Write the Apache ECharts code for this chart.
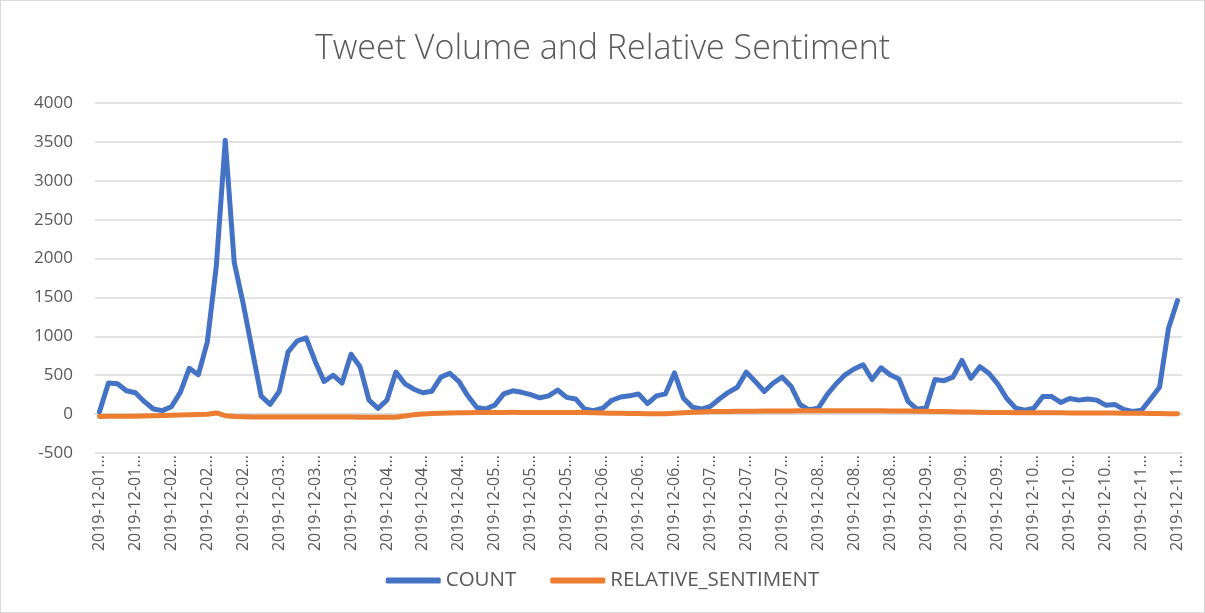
<!DOCTYPE html>
<html>
<head>
<meta charset="utf-8">
<script src="https://cdn.jsdelivr.net/npm/echarts@6/dist/echarts.min.js"></script>
<style>
html,body{margin:0;padding:0;background:#fff;}
#c{position:absolute;left:0;top:0;width:1205px;height:613px;}
#frame{position:absolute;left:0;top:0;width:1203px;height:611px;border:1px solid #d9d9d9;pointer-events:none;}
</style>
</head>
<body>
<div id="c"></div>
<div id="frame"></div>
<script>
const categories = [
"2019-12-01 08:00","2019-12-01 10:00","2019-12-01 12:00","2019-12-01 14:00","2019-12-01 16:00","2019-12-01 18:00","2019-12-01 20:00","2019-12-01 22:00",
"2019-12-02 00:00","2019-12-02 02:00","2019-12-02 04:00","2019-12-02 06:00","2019-12-02 08:00","2019-12-02 10:00","2019-12-02 12:00","2019-12-02 14:00","2019-12-02 16:00","2019-12-02 18:00","2019-12-02 20:00","2019-12-02 22:00",
"2019-12-03 00:00","2019-12-03 02:00","2019-12-03 04:00","2019-12-03 06:00","2019-12-03 08:00","2019-12-03 10:00","2019-12-03 12:00","2019-12-03 14:00","2019-12-03 16:00","2019-12-03 18:00","2019-12-03 20:00","2019-12-03 22:00",
"2019-12-04 00:00","2019-12-04 02:00","2019-12-04 04:00","2019-12-04 06:00","2019-12-04 08:00","2019-12-04 10:00","2019-12-04 12:00","2019-12-04 14:00","2019-12-04 16:00","2019-12-04 18:00","2019-12-04 20:00","2019-12-04 22:00",
"2019-12-05 00:00","2019-12-05 02:00","2019-12-05 04:00","2019-12-05 06:00","2019-12-05 08:00","2019-12-05 10:00","2019-12-05 12:00","2019-12-05 14:00","2019-12-05 16:00","2019-12-05 18:00","2019-12-05 20:00","2019-12-05 22:00",
"2019-12-06 00:00","2019-12-06 02:00","2019-12-06 04:00","2019-12-06 06:00","2019-12-06 08:00","2019-12-06 10:00","2019-12-06 12:00","2019-12-06 14:00","2019-12-06 16:00","2019-12-06 18:00","2019-12-06 20:00","2019-12-06 22:00",
"2019-12-07 00:00","2019-12-07 02:00","2019-12-07 04:00","2019-12-07 06:00","2019-12-07 08:00","2019-12-07 10:00","2019-12-07 12:00","2019-12-07 14:00","2019-12-07 16:00","2019-12-07 18:00","2019-12-07 20:00","2019-12-07 22:00",
"2019-12-08 00:00","2019-12-08 02:00","2019-12-08 04:00","2019-12-08 06:00","2019-12-08 08:00","2019-12-08 10:00","2019-12-08 12:00","2019-12-08 14:00","2019-12-08 16:00","2019-12-08 18:00","2019-12-08 20:00","2019-12-08 22:00",
"2019-12-09 00:00","2019-12-09 02:00","2019-12-09 04:00","2019-12-09 06:00","2019-12-09 08:00","2019-12-09 10:00","2019-12-09 12:00","2019-12-09 14:00","2019-12-09 16:00","2019-12-09 18:00","2019-12-09 20:00","2019-12-09 22:00",
"2019-12-10 00:00","2019-12-10 02:00","2019-12-10 04:00","2019-12-10 06:00","2019-12-10 08:00","2019-12-10 10:00","2019-12-10 12:00","2019-12-10 14:00","2019-12-10 16:00","2019-12-10 18:00","2019-12-10 20:00","2019-12-10 22:00",
"2019-12-11 00:00","2019-12-11 02:00","2019-12-11 04:00","2019-12-11 06:00","2019-12-11 08:00"
];

const countValues = [
30,400,390,300,275,160,65,45,95,280,590,505,925,1900,3520,1950,1420,820,230,125,
290,800,940,980,680,420,500,400,770,610,180,75,180,540,390,320,275,295,475,525,
420,235,85,65,115,260,300,280,250,210,235,310,215,195,65,45,75,175,220,235,
260,135,235,260,530,205,90,65,100,195,280,345,540,420,290,400,475,355,120,55,
75,250,390,505,580,635,445,595,505,450,165,65,75,445,430,475,690,460,610,525,
385,200,75,50,75,225,225,150,200,180,195,180,115,125,60,35,50,195,345,1105,
1460
];

const sentimentValues = [
-30,-29,-28,-27,-26,-25,-22,-18,-14,-10,-7,-4,-1,15,-20,
-32,-35,-36,-37,-37,-38,-38,-38,-37,-37,-36,-36,-37,-38,-39,-40,-40,-41,-40,
-25,-8,2,8,12,15,17,19,20,
21,22,22,23,22,22,21,21,22,22,21,20,
18,15,12,10,8,7,6,5,6,
12,18,24,28,32,34,35,36,
37,38,39,40,41,41,42,42,42,43,43,43,43,43,42,42,41,40,39,38,36,34,32,30,
28,26,24,22,21,20,19,18,17,
17,16,16,15,15,14,14,13,13,12,11,10,8,7,5,4
];

const yTicks = { min: -500, max: 4000, step: 500 };
const seriesNames = ["COUNT", "RELATIVE_SENTIMENT"];
const titleText = "Tweet Volume and Relative Sentiment";

const FONT = "'Open Sans', 'Liberation Sans', sans-serif";
const TXT = "#595959";
const GRID = "#d9d9d9";

const chart = echarts.init(document.getElementById('c'), null, { renderer: 'canvas' });
chart.setOption({
  animation: false,
  backgroundColor: '#ffffff',
  title: {
    text: titleText,
    left: 'center',
    top: 27,
    textStyle: { fontFamily: FONT, fontSize: 34, fontWeight: 300, color: TXT }
  },
  legend: {
    data: seriesNames,
    left: 'center',
    top: 565,
    icon: 'roundRect',
    itemWidth: 55,
    itemHeight: 6,
    itemGap: 34,
    textStyle: { fontFamily: FONT, fontSize: 20.5, color: TXT }
  },
  grid: { left: 95, right: 23, top: 103, bottom: 160, containLabel: false },
  xAxis: {
    type: 'category',
    data: categories,
    boundaryGap: true,
    axisLine: { show: true, onZero: true, lineStyle: { color: GRID, width: 1.5 } },
    axisTick: { show: false },
    splitLine: { show: false },
    axisLabel: {
      interval: 3,
      rotate: 90,
      margin: 2,
      fontFamily: FONT,
      fontSize: 16,
      color: TXT,
      formatter: function (v) { return v.slice(0, 10) + '...'; }
    }
  },
  yAxis: {
    type: 'value',
    min: yTicks.min,
    max: yTicks.max,
    interval: yTicks.step,
    axisLine: { show: false },
    axisTick: { show: false },
    splitLine: { show: true, lineStyle: { color: GRID, width: 1.5 } },
    axisLabel: {
      margin: 22, fontFamily: FONT, fontSize: 17, color: TXT,
      formatter: function (v) { return String(v); }
    }
  },
  series: [
    {
      name: seriesNames[0],
      type: 'line',
      data: countValues,
      showSymbol: false,
      symbol: 'none',
      smooth: false,
      itemStyle: { color: '#4472C4' },
      lineStyle: { color: '#4472C4', width: 5, cap: 'round', join: 'round' }
    },
    {
      name: seriesNames[1],
      type: 'line',
      data: sentimentValues,
      showSymbol: false,
      symbol: 'none',
      smooth: false,
      itemStyle: { color: '#ED7D31' },
      lineStyle: { color: '#ED7D31', width: 5, cap: 'round', join: 'round' }
    }
  ]
});
</script>
</body>
</html>
